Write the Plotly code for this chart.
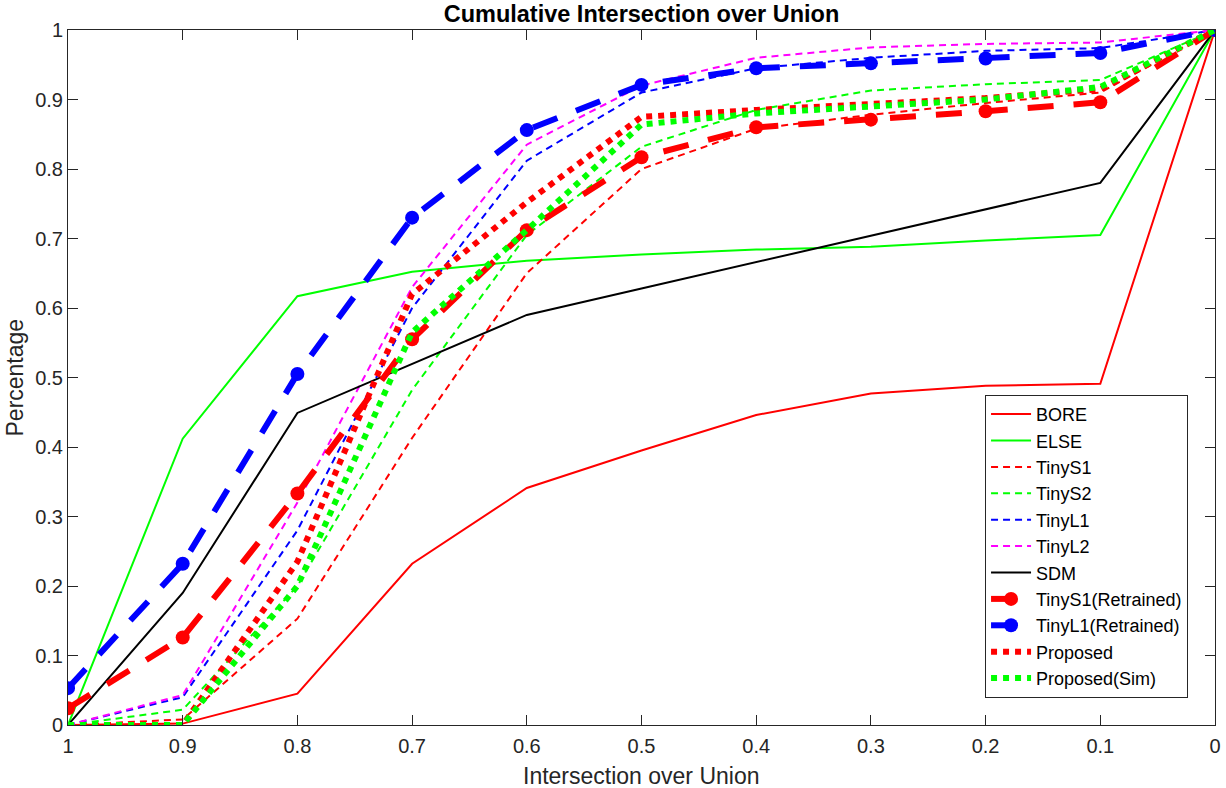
import plotly.graph_objects as go

IOU = [1.0, 0.9, 0.8, 0.7, 0.6, 0.5, 0.4, 0.3, 0.2, 0.1, 0.0]

BORE = [0.0, 0.002, 0.045, 0.232, 0.341, 0.395, 0.446, 0.477, 0.488, 0.491, 1.0]
ELSE = [0.0, 0.412, 0.617, 0.652, 0.668, 0.677, 0.684, 0.688, 0.697, 0.705, 1.0]
TINY_S1 = [0.0, 0.008, 0.153, 0.413, 0.650, 0.800, 0.858, 0.878, 0.895, 0.910, 1.0]
TINY_S2 = [0.0, 0.022, 0.200, 0.482, 0.705, 0.832, 0.885, 0.913, 0.922, 0.928, 1.0]
TINY_L1 = [0.0, 0.040, 0.280, 0.600, 0.812, 0.910, 0.945, 0.960, 0.970, 0.974, 1.0]
TINY_L2 = [0.0, 0.043, 0.320, 0.630, 0.835, 0.920, 0.960, 0.975, 0.980, 0.982, 1.0]
SDM = [0.0, 0.190, 0.449, 0.520, 0.590, 0.628, 0.666, 0.704, 0.742, 0.780, 1.0]
TINY_S1_RT = [0.024, 0.126, 0.333, 0.555, 0.712, 0.817, 0.860, 0.871, 0.883, 0.896, 1.0]
TINY_L1_RT = [0.053, 0.232, 0.505, 0.730, 0.856, 0.921, 0.945, 0.952, 0.959, 0.967, 1.0]
PROPOSED = [0.0, 0.0, 0.235, 0.620, 0.752, 0.875, 0.885, 0.893, 0.902, 0.915, 1.0]
PROPOSED_SIM = [0.0, 0.0, 0.200, 0.565, 0.712, 0.864, 0.880, 0.889, 0.900, 0.918, 1.0]

TICKS = [1.0, 0.9, 0.8, 0.7, 0.6, 0.5, 0.4, 0.3, 0.2, 0.1, 0.0]
TICK_TEXT = ["1", "0.9", "0.8", "0.7", "0.6", "0.5", "0.4", "0.3", "0.2", "0.1", "0"]
Y_TICKS = [0.0, 0.1, 0.2, 0.3, 0.4, 0.5, 0.6, 0.7, 0.8, 0.9, 1.0]
Y_TEXT = ["0", "0.1", "0.2", "0.3", "0.4", "0.5", "0.6", "0.7", "0.8", "0.9", "1"]

RED, GREEN, BLUE, MAGENTA, BLACK = "#ff0000", "#00ff00", "#0000ff", "#ff00ff", "#000000"
THIN_DASH = "7px,5px"
THICK_DASH = "26px,20px"
DOTS = "6px,6px"

series = [
    ("BORE", BORE, RED, 2, "solid", False),
    ("ELSE", ELSE, GREEN, 2, "solid", False),
    ("TinyS1", TINY_S1, RED, 2, THIN_DASH, False),
    ("TinyS2", TINY_S2, GREEN, 2, THIN_DASH, False),
    ("TinyL1", TINY_L1, BLUE, 2, THIN_DASH, False),
    ("TinyL2", TINY_L2, MAGENTA, 2, THIN_DASH, False),
    ("SDM", SDM, BLACK, 2, "solid", False),
    ("TinyS1(Retrained)", TINY_S1_RT, RED, 6, THICK_DASH, True),
    ("TinyL1(Retrained)", TINY_L1_RT, BLUE, 6, THICK_DASH, True),
    ("Proposed", PROPOSED, RED, 6, DOTS, False),
    ("Proposed(Sim)", PROPOSED_SIM, GREEN, 6, DOTS, False),
]

fig = go.Figure()
for name, ys, color, width, dash, markers in series:
    fig.add_trace(go.Scatter(
        x=IOU, y=ys, name=name,
        mode="lines+markers" if markers else "lines",
        line={"color": color, "width": width, "dash": dash},
        marker={"color": color, "size": 14, "symbol": "circle"},
    ))

FONT = "Arial, Liberation Sans, Helvetica, sans-serif"
axis_common = dict(
    showgrid=False, zeroline=False, showline=True, linecolor="#262626",
    linewidth=1, mirror="allticks", ticks="inside", ticklen=10,
    tickcolor="#262626", tickfont={"size": 20, "color": "#262626"},
    automargin=False,
)

fig.update_layout(
    width=1226, height=788,
    paper_bgcolor="white", plot_bgcolor="white",
    font={"family": FONT, "color": "#262626"},
    margin={"l": 68, "r": 11, "t": 30, "b": 63},
    title={"text": "<b>Cumulative Intersection over Union</b>",
           "x": 0.5, "xref": "paper", "y": 1 - 14 / 788, "yanchor": "middle",
           "font": {"size": 23.5, "color": "black"}},
    xaxis=dict(axis_common, range=[1, 0], tickvals=TICKS, ticktext=TICK_TEXT,
               ticklabelstandoff=3),
    yaxis=dict(axis_common, range=[0, 1], tickvals=Y_TICKS, ticktext=Y_TEXT),
    legend={"x": 0.9765, "y": 0.039, "xanchor": "right", "yanchor": "bottom",
            "bordercolor": "#262626", "borderwidth": 1, "bgcolor": "white",
            "font": {"size": 18, "color": "black"}, "tracegroupgap": 0,
            "itemwidth": 40},
    showlegend=True,
    annotations=[
        dict(text="Intersection over Union", xref="paper", yref="paper",
             x=0.5, y=-51 / 695, xanchor="center", yanchor="middle",
             showarrow=False, font={"size": 23, "color": "#262626"}),
        dict(text="Percentage", xref="paper", yref="paper",
             x=-54 / 1147, y=0.5, xanchor="center", yanchor="middle",
             textangle=-90, showarrow=False,
             font={"size": 23, "color": "#262626"}),
    ],
)

# drop the default 8px body margin so the figure sits at the page corner
fig.write_html("out.html", config={"displayModeBar": False},
               post_script="document.body.style.margin='0';")
